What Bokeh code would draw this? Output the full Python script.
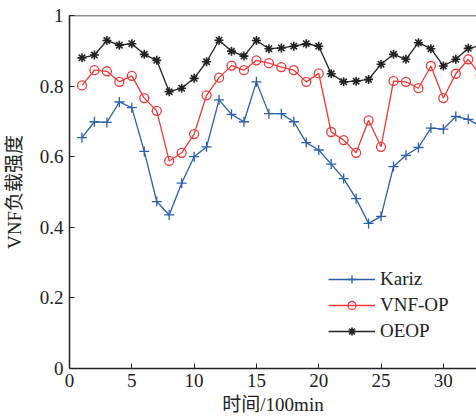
from bokeh.plotting import figure
from bokeh.models import Legend, LegendItem, FixedTicker, Range1d, Span
from bokeh.embed import file_html
from bokeh.resources import INLINE

x = list(range(1, 34))
kariz = [0.654, 0.699, 0.697, 0.755, 0.739, 0.615, 0.473, 0.435, 0.525, 0.600,
         0.628, 0.761, 0.720, 0.699, 0.812, 0.722, 0.722, 0.699, 0.640, 0.619,
         0.579, 0.538, 0.481, 0.411, 0.431, 0.572, 0.604, 0.626, 0.681, 0.678,
         0.714, 0.706, 0.685]
vnfop = [0.802, 0.845, 0.842, 0.812, 0.829, 0.766, 0.730, 0.588, 0.611, 0.664,
         0.774, 0.824, 0.858, 0.845, 0.873, 0.865, 0.854, 0.845, 0.812, 0.836,
         0.670, 0.647, 0.611, 0.703, 0.628, 0.814, 0.812, 0.794, 0.857, 0.766,
         0.835, 0.876, 0.830]
oeop = [0.880, 0.888, 0.929, 0.916, 0.920, 0.890, 0.873, 0.784, 0.794, 0.822,
        0.869, 0.930, 0.899, 0.885, 0.929, 0.906, 0.908, 0.913, 0.920, 0.913,
        0.835, 0.812, 0.814, 0.819, 0.862, 0.890, 0.876, 0.923, 0.906, 0.857,
        0.876, 0.907, 0.915]
names = ["Kariz", "VNF-OP", "OEOP"]
x_ticks = [0, 5, 10, 15, 20, 25, 30]
y_ticks = [0, 0.2, 0.4, 0.6, 0.8, 1.0]

FONT = "Liberation Serif, Noto Sans CJK SC"

p = figure(width=476, height=419, output_backend="svg",
           toolbar_location=None, x_range=Range1d(0, 32.66), y_range=Range1d(0, 1),
           min_border_left=68, min_border_right=0, min_border_top=15, min_border_bottom=51)
p.outline_line_color = None
p.grid.visible = False
p.background_fill_color = "white"

for ax in (p.xaxis[0], p.yaxis[0]):
    ax.major_tick_in = 5
    ax.major_tick_out = 0
    ax.minor_tick_line_color = None
    ax.axis_line_color = "#222222"
    ax.axis_line_width = 1.5
    ax.major_tick_line_color = "#222222"
    ax.major_label_text_font = FONT
    ax.major_label_text_font_size = "19px"
    ax.major_label_text_color = "#222222"
    ax.axis_label_text_font = FONT
    ax.axis_label_text_font_size = "19px"
    ax.axis_label_text_font_style = "normal"
    ax.axis_label_text_color = "#222222"

p.xaxis[0].ticker = FixedTicker(ticks=x_ticks)
p.yaxis[0].ticker = FixedTicker(ticks=y_ticks)
p.yaxis[0].major_label_overrides = {0: "0"}
p.xaxis[0].axis_label = "时间/100min"
p.yaxis[0].axis_label = "VNF负载强度"
p.xaxis[0].major_label_standoff = 5
p.yaxis[0].major_label_standoff = 6
p.xaxis[0].axis_label_standoff = 4
p.yaxis[0].axis_label_standoff = 12

p.add_layout(Span(location=1, dimension="width", line_color="#222222", line_width=1.5))

blue = "#2b5fb0"
red = "#f03a3a"
black = "#222222"

l1 = p.line(x, kariz, line_color=blue, line_width=1.3)
m1 = p.scatter(x, kariz, marker="cross", size=10, line_color=blue, line_width=1.3)
l2 = p.line(x, vnfop, line_color=red, line_width=1.3)
m2 = p.scatter(x, vnfop, marker="circle", size=9, line_color=red, fill_color=None, line_width=1.3)
l3 = p.line(x, oeop, line_color=black, line_width=1.3)
m3 = p.scatter(x, oeop, marker="asterisk", size=9, line_color=black, line_width=1.6)

legend = Legend(items=[LegendItem(label=names[0], renderers=[l1, m1]),
                       LegendItem(label=names[1], renderers=[l2, m2]),
                       LegendItem(label=names[2], renderers=[l3, m3])],
                location=(259, 26), glyph_width=47, glyph_height=20, spacing=4,
                label_standoff=5, padding=0, margin=0,
                border_line_color=None, background_fill_alpha=0,
                label_text_font=FONT, label_text_font_size="19px",
                label_text_color="#222222")
p.add_layout(legend, "center")

open("out.html", "w").write(file_html(p, INLINE))
